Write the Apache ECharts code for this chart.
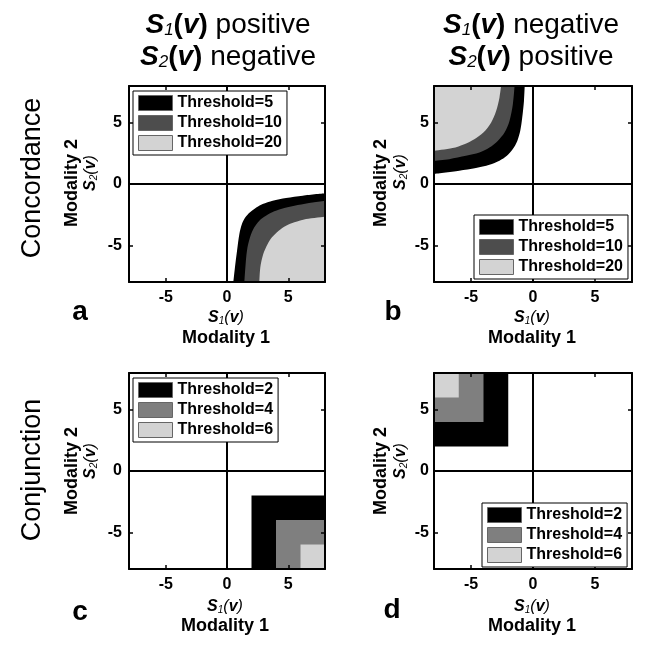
<!DOCTYPE html>
<html>
<head>
<meta charset="UTF-8">
<title>Concordance and conjunction thresholds</title>
<style>
  html, body { margin: 0; padding: 0; background: #fff; }
  #chart { width: 652px; height: 645px; }
</style>
<script src="https://cdn.jsdelivr.net/npm/echarts@6/dist/echarts.min.js"></script>
</head>
<body>
<div id="chart"></div>
<script>
// ---- data ----
var concNames = ['Threshold=5', 'Threshold=10', 'Threshold=20'];
var conjNames = ['Threshold=2', 'Threshold=4', 'Threshold=6'];
var tickValues = [-5, 0, 5];

// panel a: S1 positive, S2 negative (boundary curves, region lies below/right)
var a5  = [[0.52, -8], [0.65, -6.8], [0.82, -5.44], [1.01, -4.08], [1.22, -3.27], [1.5, -2.72], [1.88, -2.31],
           [2.42, -1.9], [2.91, -1.63], [3.73, -1.36], [4.82, -1.14], [6.18, -0.95], [8, -0.76]];
var a10 = [[1.42, -8], [1.5, -6.8], [1.63, -5.44], [1.88, -4.35], [2.23, -3.54], [2.64, -2.99], [3.18, -2.59],
           [3.86, -2.23], [4.68, -1.96], [5.77, -1.71], [6.99, -1.5], [8, -1.36]];
var a20 = [[2.64, -8], [2.72, -6.8], [2.96, -5.71], [3.32, -4.9], [3.67, -4.35], [4.22, -3.81], [4.82, -3.4],
           [5.5, -3.13], [6.45, -2.86], [8, -2.67]];
// panel b: S1 negative, S2 positive (region lies above/left)
var b5  = [[-8, 0.82], [-5.96, 1.08], [-4.61, 1.3], [-3.52, 1.57], [-2.71, 1.9], [-2.11, 2.3], [-1.63, 2.85],
           [-1.27, 3.52], [-1.03, 4.34], [-0.87, 5.42], [-0.73, 6.78], [-0.67, 8]];
var b10 = [[-8, 1.9], [-6.77, 2.03], [-5.42, 2.3], [-4.33, 2.57], [-3.52, 2.98], [-2.85, 3.52], [-2.3, 4.2],
           [-1.9, 5.15], [-1.63, 6.5], [-1.49, 8]];
var b20 = [[-8, 2.71], [-6.5, 2.93], [-5.55, 3.25], [-4.74, 3.66], [-4.01, 4.2], [-3.39, 5.01], [-2.98, 5.96],
           [-2.71, 7.05], [-2.58, 8]];
// panel c / d: conjunction squares (inner edge of each block)
var c2 = [[2, -2], [8, -2]];
var c4 = [[4, -4], [8, -4]];
var c6 = [[6, -6], [8, -6]];
var d2 = [[-8, 2], [-2, 2]];
var d4 = [[-8, 4], [-4, 4]];
var d6 = [[-8, 6], [-6, 6]];
// zero reference lines
var zeroH = [[-8, 0], [8, 0]];
var zeroV = [[0, -8], [0, 8]];

var concColors = ['#000000', '#4d4d4d', '#d3d3d3'];
var conjColors = ['#000000', '#7f7f7f', '#d3d3d3'];

var FONT = "'Liberation Sans', Arial, Helvetica, sans-serif";

var chart = echarts.init(document.getElementById('chart'), null, { renderer: 'canvas' });

var grids = [
  { left: 129, top: 86, width: 196, height: 196 },
  { left: 434, top: 86, width: 198, height: 196 },
  { left: 129, top: 373, width: 196, height: 196 },
  { left: 434, top: 373, width: 198, height: 196 }
];
var labelMargins = [7, 5, 7, 5];

var xAxes = [], yAxes = [];
grids.forEach(function (g, i) {
  ['bottom', 'top'].forEach(function (pos) {
    xAxes.push({
      gridIndex: i, type: 'value', min: -8, max: 8, position: pos, z: 5,
      axisLine: { show: true, onZero: false, lineStyle: { color: '#000', width: 2 } },
      axisTick: { show: true, inside: true, length: 4, customValues: tickValues, lineStyle: { color: '#000', width: 1.5 } },
      axisLabel: { show: pos === 'bottom', customValues: tickValues, color: '#000', fontWeight: 'bold', fontSize: 16, fontFamily: FONT, margin: 8 },
      splitLine: { show: false }
    });
  });
  ['left', 'right'].forEach(function (pos) {
    yAxes.push({
      gridIndex: i, type: 'value', min: -8, max: 8, position: pos, z: 5,
      axisLine: { show: true, onZero: false, lineStyle: { color: '#000', width: 2 } },
      axisTick: { show: true, inside: true, length: 4, customValues: tickValues, lineStyle: { color: '#000', width: 1.5 } },
      axisLabel: { show: pos === 'left', customValues: tickValues, color: '#000', fontWeight: 'bold', fontSize: 16, fontFamily: FONT, margin: labelMargins[i] },
      splitLine: { show: false }
    });
  });
});

function area(name, data, color, gi, origin, smooth) {
  return {
    name: name, type: 'line', data: data,
    xAxisIndex: gi * 2, yAxisIndex: gi * 2,
    smooth: smooth, showSymbol: false, symbol: 'none',
    lineStyle: { width: 0, color: color },
    itemStyle: { color: color },
    areaStyle: { color: color, opacity: 1, origin: origin },
    silent: true
  };
}
function rule(data, gi) {
  return {
    type: 'line', data: data, xAxisIndex: gi * 2, yAxisIndex: gi * 2,
    showSymbol: false, symbol: 'none', silent: true, z: 3,
    lineStyle: { color: '#000', width: 2 }
  };
}

var series = [
  area(concNames[0], a5, concColors[0], 0, 'start', 0.3),
  area(concNames[1], a10, concColors[1], 0, 'start', 0.3),
  area(concNames[2], a20, concColors[2], 0, 'start', 0.3),
  area(concNames[0], b5, concColors[0], 1, 'end', 0.3),
  area(concNames[1], b10, concColors[1], 1, 'end', 0.3),
  area(concNames[2], b20, concColors[2], 1, 'end', 0.3),
  area(conjNames[0], c2, conjColors[0], 2, 'start', false),
  area(conjNames[1], c4, conjColors[1], 2, 'start', false),
  area(conjNames[2], c6, conjColors[2], 2, 'start', false),
  area(conjNames[0], d2, conjColors[0], 3, 'end', false),
  area(conjNames[1], d4, conjColors[1], 3, 'end', false),
  area(conjNames[2], d6, conjColors[2], 3, 'end', false)
];
[0, 1, 2, 3].forEach(function (gi) {
  series.push(rule(zeroH, gi));
  series.push(rule(zeroV, gi));
});

function legend(names, left, top) {
  return {
    data: names, left: left, top: top, orient: 'vertical',
    icon: 'rect', itemWidth: 34, itemHeight: 15, itemGap: 4,
    padding: [4, 5, 4, 5], backgroundColor: '#fff',
    borderColor: '#000', borderWidth: 1, borderRadius: 0,
    selectedMode: false, z: 6,
    itemStyle: { borderColor: '#666', borderWidth: 1 },
    textStyle: { color: '#000', fontSize: 16, fontWeight: 'bold', fontFamily: FONT }
  };
}

// rich text pieces for S1(v) / S2(v)
function svText(sub, tail) {
  return '{s|S}{n|' + sub + '}{p|(}{v|v}{p|)}' + (tail ? '{w| ' + tail + '}' : '');
}
var titleRich = {
  s: { fontSize: 28, fontStyle: 'italic', fontWeight: 'bold', fontFamily: FONT, fill: '#000' },
  n: { fontSize: 17, fontStyle: 'italic', fontFamily: FONT, fill: '#000', verticalAlign: 'bottom' },
  p: { fontSize: 28, fontWeight: 'bold', fontFamily: FONT, fill: '#000' },
  v: { fontSize: 28, fontStyle: 'italic', fontWeight: 'bold', fontFamily: FONT, fill: '#000' },
  w: { fontSize: 28, fontFamily: FONT, fill: '#000' }
};
var axisRich = {
  s: { fontSize: 16, fontStyle: 'italic', fontWeight: 'bold', fontFamily: FONT, fill: '#000' },
  n: { fontSize: 10, fontStyle: 'italic', fontFamily: FONT, fill: '#000', verticalAlign: 'bottom' },
  p: { fontSize: 16, fontStyle: 'italic', fontFamily: FONT, fill: '#000' },
  v: { fontSize: 16, fontStyle: 'italic', fontWeight: 'bold', fontFamily: FONT, fill: '#000' }
};

function txt(x, y, text, opts) {
  opts = opts || {};
  return {
    type: 'text', x: x, y: y, rotation: opts.rot ? Math.PI / 2 : 0, silent: true,
    style: {
      text: text, rich: opts.rich, x: 0, y: 0,
      align: 'center', verticalAlign: 'middle', textAlign: 'center', textVerticalAlign: 'middle',
      fill: '#000', fontFamily: FONT,
      fontSize: opts.size || 16, fontWeight: opts.weight || 'normal'
    }
  };
}

var graphics = [
  txt(228, 25, svText('1', 'positive'), { rich: titleRich }),
  txt(228, 57, svText('2', 'negative'), { rich: titleRich }),
  txt(531, 25, svText('1', 'negative'), { rich: titleRich }),
  txt(531, 57, svText('2', 'positive'), { rich: titleRich }),
  txt(33, 178, 'Concordance', { rot: true, size: 27 }),
  txt(33, 470, 'Conjunction', { rot: true, size: 27 })
];
// per-panel axis titles and letters
var panelText = [
  { my: [72, 183], sy: [91, 173], sx: [226, 318], mx: [226, 338], letter: 'a', lp: [80, 312] },
  { my: [381, 183], sy: [401, 172], sx: [532, 318], mx: [532, 338], letter: 'b', lp: [393, 312] },
  { my: [72, 471], sy: [91, 461], sx: [225, 607], mx: [225, 626], letter: 'c', lp: [80, 612] },
  { my: [381, 471], sy: [401, 461], sx: [532, 607], mx: [532, 626], letter: 'd', lp: [392, 610] }
];
panelText.forEach(function (p) {
  graphics.push(txt(p.my[0], p.my[1], 'Modality 2', { rot: true, size: 18, weight: 'bold' }));
  graphics.push(txt(p.sy[0], p.sy[1], svText('2'), { rot: true, rich: axisRich }));
  graphics.push(txt(p.sx[0], p.sx[1], svText('1'), { rich: axisRich }));
  graphics.push(txt(p.mx[0], p.mx[1], 'Modality 1', { size: 18, weight: 'bold' }));
  graphics.push(txt(p.lp[0], p.lp[1], p.letter, { size: 28, weight: 'bold' }));
});

chart.setOption({
  animation: false,
  backgroundColor: '#fff',
  grid: grids,
  xAxis: xAxes,
  yAxis: yAxes,
  legend: [
    legend(concNames, 133, 91),
    legend(concNames, 474, 215),
    legend(conjNames, 133, 378),
    legend(conjNames, 482, 503)
  ],
  graphic: graphics,
  series: series
});
</script>
</body>
</html>
